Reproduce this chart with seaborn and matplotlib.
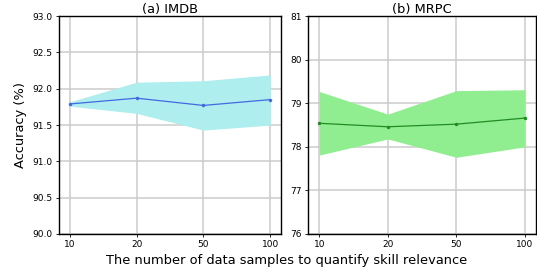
import numpy as np
import matplotlib
matplotlib.use('Agg')
import matplotlib.pyplot as plt
import seaborn as sns

samples = ['10', '20', '50', '100']

imdb_mean = [91.79, 91.87, 91.77, 91.85]
imdb_low = [91.76, 91.66, 91.43, 91.50]
imdb_high = [91.82, 92.09, 92.11, 92.19]

mrpc_mean = [78.54, 78.46, 78.52, 78.66]
mrpc_low = [77.81, 78.18, 77.76, 78.00]
mrpc_high = [79.27, 78.75, 79.29, 79.31]

sns.set_theme(style='whitegrid')
plt.rcParams['font.family'] = ['DejaVu Sans']
plt.rcParams['text.color'] = 'black'
plt.rcParams['axes.labelcolor'] = 'black'
plt.rcParams['xtick.color'] = 'black'
plt.rcParams['ytick.color'] = 'black'

fig = plt.figure(figsize=(5.37, 2.73), dpi=100)
ax1 = fig.add_axes([0.110, 0.143, 0.413, 0.798])
ax2 = fig.add_axes([0.574, 0.143, 0.424, 0.798])

pos = np.arange(len(samples))


def draw_panel(ax, mean, low, high, fill_color, line_color, title, ylim, yticks):
    ax.fill_between(pos, low, high, color=fill_color, linewidth=0)
    sns.lineplot(x=pos, y=mean, ax=ax, color=line_color, marker='o', markersize=2.5,
                 markeredgewidth=0, linewidth=0.9)
    ax.set_xticks(pos)
    ax.set_xticklabels(samples)
    ax.set_ylim(*ylim)
    ax.set_yticks(yticks)
    ax.set_xlim(-0.16, 3.16)
    ax.set_title(title, fontsize=9.4, pad=2)
    ax.tick_params(axis='both', labelsize=6.5, length=2.5, width=0.6, pad=2,
                   direction='out', left=True, bottom=True, color='black')
    ax.grid(True, color='#cccccc', linewidth=1.1)
    for sp in ax.spines.values():
        sp.set_color('black')
        sp.set_linewidth(1.0)


draw_panel(ax1, imdb_mean, imdb_low, imdb_high, '#AFEEEE', '#4169E1', '(a) IMDB',
           (90.0, 93.0), np.arange(90.0, 93.01, 0.5))
ax1.set_yticklabels([f'{v:.1f}' for v in np.arange(90.0, 93.01, 0.5)])
ax1.set_ylabel('Accuracy (%)', fontsize=9.4, labelpad=4)

draw_panel(ax2, mrpc_mean, mrpc_low, mrpc_high, '#90EE90', '#228B22', '(b) MRPC',
           (76, 81), np.arange(76, 82, 1))

fig.text(0.534, 0.022, 'The number of data samples to quantify skill relevance',
         ha='center', va='bottom', fontsize=9.4)

fig.savefig('out.png', dpi=100)
